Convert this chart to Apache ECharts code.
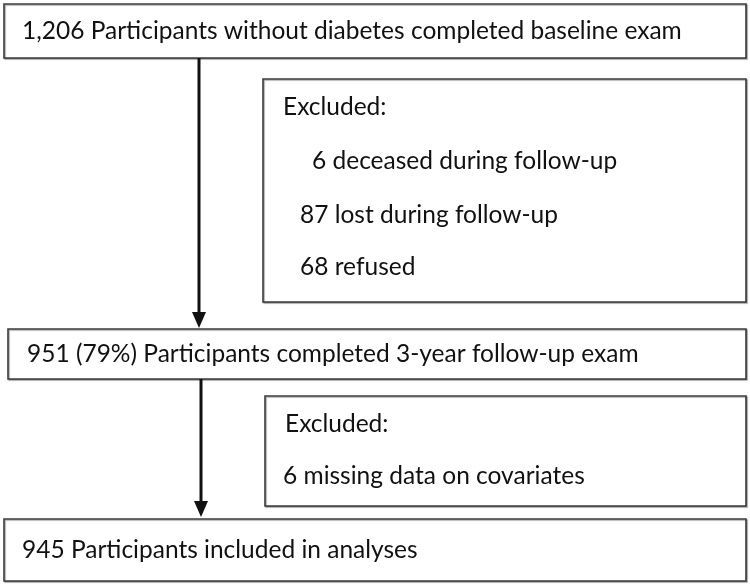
<!DOCTYPE html>
<html>
<head>
<meta charset="utf-8">
<script src="https://cdn.jsdelivr.net/npm/echarts@6/dist/echarts.min.js"></script>
<style>html,body{margin:0;padding:0;background:#fff}#c{width:750px;height:585px}</style>
</head>
<body>
<div id="c"></div>
<script>
// ---- Data (flow counts and texts) ----
const stepCounts = ["1,206", "951 (79%)", "945"];
const stepTexts = ["Participants without diabetes completed baseline exam",
                   "Participants completed 3-year follow-up exam",
                   "Participants included in analyses"];
const excl1Counts = ["6", "87", "68"];
const excl1Reasons = ["deceased during follow-up", "lost during follow-up", "refused"];
const excl2Counts = ["6"];
const excl2Reasons = ["missing data on covariates"];
const exclHeader = "Excluded:";

// ---- Layout (positions/styles) ----
const FONT = 'Lato, "Open Sans", sans-serif';
const FS = 24.5;
const stroke = '#3c3c3c';
const boxes = [
  {x: 4, y: 4, w: 742, h: 54, tx: 22},
  {x: 8, y: 329, w: 738, h: 50, tx: 27},
  {x: 4, y: 519, w: 742, h: 62, tx: 22}
];
const ex1 = {x: 263, y: 79, w: 483, h: 223, hx: 283, hy: 107, items: [{x: 312, y: 161}, {x: 300, y: 215}, {x: 300, y: 267}]};
const ex2 = {x: 265, y: 396, w: 481, h: 110, hx: 285, hy: 424, items: [{x: 283, y: 476}]};

function rect(b) {
  return {type: 'rect', shape: {x: b.x, y: b.y, width: b.w, height: b.h},
    style: {fill: '#fff', stroke: stroke, lineWidth: 1.6,
      shadowColor: 'rgba(0,0,0,0.35)', shadowOffsetX: 1, shadowOffsetY: 1, shadowBlur: 1}};
}
function txt(s, x, y) {
  return {type: 'text', x: x, y: y, style: {text: s, font: FS + 'px ' + FONT, fill: '#111', textVerticalAlign: 'middle', textAlign: 'left'}};
}
function arrow(x, y1, y2) {
  return [
    {type: 'line', shape: {x1: x, y1: y1, x2: x, y2: y2 - 14}, style: {stroke: '#111', lineWidth: 3}},
    {type: 'polygon', shape: {points: [[x - 7, y2 - 16], [x + 7, y2 - 16], [x, y2]]}, style: {fill: '#111'}}
  ];
}

const els = [];
boxes.forEach((b, i) => {
  els.push(rect(b));
  els.push(txt(stepCounts[i] + ' ' + stepTexts[i], b.tx, b.y + b.h / 2));
});
els.push(rect(ex1));
els.push(txt(exclHeader, ex1.hx, ex1.hy));
excl1Counts.forEach((c, i) => els.push(txt(c + ' ' + excl1Reasons[i], ex1.items[i].x, ex1.items[i].y)));
els.push(rect(ex2));
els.push(txt(exclHeader, ex2.hx, ex2.hy));
excl2Counts.forEach((c, i) => els.push(txt(c + ' ' + excl2Reasons[i], ex2.items[i].x, ex2.items[i].y)));
els.push(...arrow(199, 58, 328));
els.push(...arrow(201, 379, 517));

const chart = echarts.init(document.getElementById('c'), null, {renderer: 'canvas'});
chart.setOption({backgroundColor: '#fff', animation: false, graphic: {elements: els}});
</script>
</body>
</html>
